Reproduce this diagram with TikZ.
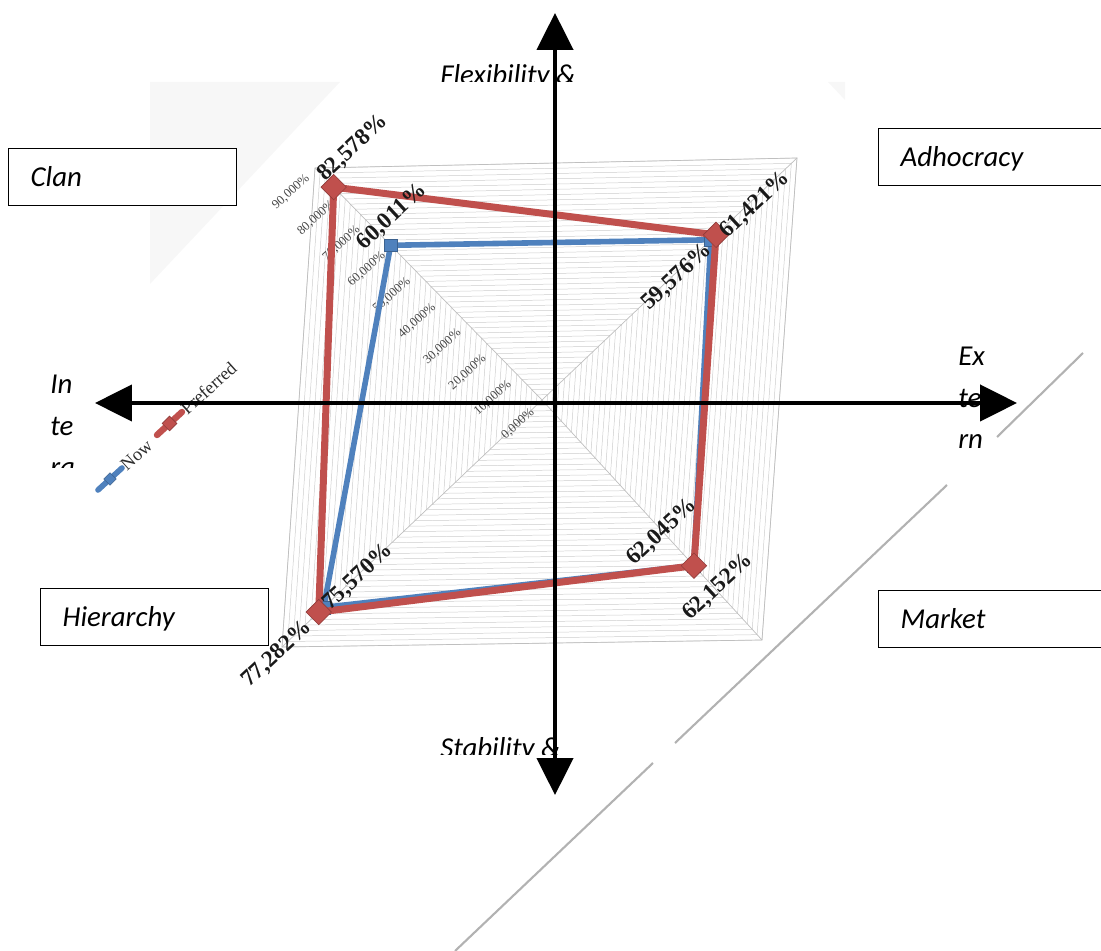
\documentclass[tikz,border=0pt]{standalone}
\usepackage{fontspec}
\setmainfont{Carlito}
\newfontfamily\chartfont{Liberation Serif}
\usepackage{xcolor}
\usepackage{tikz}
\usetikzlibrary{arrows.meta,positioning,calc}

\definecolor{prefred}{HTML}{C0504D}
\definecolor{nowblue}{HTML}{4F81BD}

\begin{document}
\begin{tikzpicture}[
    x=0.025cm, y=-0.025cm,
    bigaxis/.style={line width=2.8pt, {Triangle[length=0.92cm,width=0.9cm]}-{Triangle[length=0.92cm,width=0.9cm]}},
    quadbox/.style={draw, line width=0.9pt, fill=white, anchor=north west, minimum width=5.7cm, minimum height=1.42cm, text width=4.6cm, inner xsep=0.55cm, align=left, font=\fontsize{20.5}{24}\selectfont\itshape, text height=0.46cm, text depth=0pt},
    sidetext/.style={inner sep=0pt, anchor=north west, align=left, font=\fontsize{20.5}{29.4}\selectfont\itshape},
    gridline/.style={gray!40, line width=0.35pt},
    spoke/.style={gray!50, line width=0.5pt},
    ticklabel/.style={font=\chartfont\fontsize{9}{10}\selectfont, text=gray!55!black, rotate=42, inner sep=0pt},
    vallabel/.style={font=\chartfont\bfseries\fontsize{16.5}{17}\selectfont, text=black!90, rotate=43, inner sep=0pt},
    prefline/.style={prefred, line width=0.175cm, line join=round},
    nowline/.style={nowblue, line width=0.14cm, line join=round},
    prefmark/.style={fill=prefred, draw=prefred!75!black, line width=0.4pt, rotate=45, minimum size=0.45cm, inner sep=0pt},
    nowmark/.style={fill=nowblue, draw=nowblue!75!black, line width=0.4pt, minimum size=0.32cm, inner sep=0pt},
    legtext/.style={font=\chartfont\fontsize{13}{14}\selectfont, text=gray!35!black, rotate=42, anchor=west, inner sep=1pt},
    cutline/.style={gray!60, line width=1.5pt}
]
\useasboundingbox (0,0) rectangle (1101,951);

% Chart background
\fill[gray!6] (150,82) -- (340,82) -- (150,284) -- cycle;
\fill[gray!6] (828,82) -- (845,82) -- (845,100) -- cycle;

% Side texts (cut off)
\begin{scope}
  \clip (420,40) rectangle (620,82);
  \node[sidetext] (flex) at (440,64) {Flexibility \&};
\end{scope}
\begin{scope}
  \clip (420,720) rectangle (620,755);
  \node[sidetext] (stab) at (440,737) {Stability \&};
\end{scope}
\begin{scope}
  \clip (40,360) rectangle (110,468);
  \node[sidetext] (intern) at (50,375) {In\\te\\ra};
\end{scope}
\node[sidetext] (extern) at (958,347) {Ex\\te\\rn};

% Diagonal line
\draw[cutline] (1083,353) -- (997,437);
\draw[cutline] (947,485) -- (675,743);
\draw[cutline] (653,763) -- (455,951);

% Quadrant boxes
\node[quadbox] (clan) at (8,148) {Clan};
\node[quadbox] (adhoc) at (878,128) {Adhocracy};
\node[quadbox] (hier) at (40,588) {Hierarchy};
\node[quadbox] (market) at (878,590) {Market};

% Radar grid
\coordinate (C) at (542,400);
\coordinate (TL) at (315,168);
\coordinate (TR) at (797,158);
\coordinate (BR) at (762,640);
\coordinate (BL) at (282,647);
\foreach \k in {1,...,45}
  \draw[gridline] ($(C)!\k/45!(TL)$) -- ($(C)!\k/45!(TR)$) -- ($(C)!\k/45!(BR)$) -- ($(C)!\k/45!(BL)$) -- cycle;
\draw[spoke] (TL) -- (TR) -- (BR) -- (BL) -- cycle;
\foreach \c in {TL,TR,BR,BL}
  \draw[spoke] (C) -- (\c);
\foreach \k/\v in {0/0,1/10,2/20,3/30,4/40,5/50,6/60,7/70,8/80,9/90}
  \node[ticklabel] (tick\k) at ($(C)!\k/9!(TL)+(-24,24)$) {\v,000\%};

% Data
\coordinate (n1) at ($(C)!60.011/90!(TL)$);
\coordinate (n2) at ($(C)!59.576/90!(TR)$);
\coordinate (n3) at ($(C)!62.045/90!(BR)$);
\coordinate (n4) at ($(C)!75.570/90!(BL)$);
\coordinate (p1) at ($(C)!82.578/90!(TL)$);
\coordinate (p2) at ($(C)!61.421/90!(TR)$);
\coordinate (p3) at ($(C)!62.152/90!(BR)$);
\coordinate (p4) at ($(C)!77.282/90!(BL)$);
\draw[nowline] (n1) -- (n2) -- (n3) -- (n4) -- cycle;
\foreach \i in {1,...,4}
  \node[nowmark] (nm\i) at (n\i) {};
\draw[prefline] (p1) -- (p2) -- (p3) -- (p4) -- cycle;
\foreach \i in {1,...,4}
  \node[prefmark] (pm\i) at (p\i) {};

% Value labels
\node[vallabel] (vp1) at (353,148) {82,578\%};
\node[vallabel] (vn1) at (392,217) {60,011\%};
\node[vallabel] (vp2) at (755,205) {61,421\%};
\node[vallabel] (vn2) at (677,277) {59,576\%};
\node[vallabel] (vn3) at (662,532) {62,045\%};
\node[vallabel] (vp3) at (718,587) {62,152\%};
\node[vallabel] (vn4) at (358,577) {75,570\%};
\node[vallabel] (vp4) at (277,654) {77,282\%};

% Legend
\coordinate (lp1) at (157,435);
\coordinate (lp2) at (182,412);
\draw[prefred, line width=0.16cm, line cap=round] (lp1) -- (lp2);
\node[prefmark, minimum size=0.26cm] (lpm) at ($(lp1)!0.5!(lp2)$) {};
\node[legtext] (legpref) at (lp2) {Preferred};
\coordinate (ln1) at (98,490);
\coordinate (ln2) at (122,468);
\draw[nowblue, line width=0.14cm, line cap=round] (ln1) -- (ln2);
\node[nowmark, rotate=45, minimum size=0.22cm] (lnm) at ($(ln1)!0.5!(ln2)$) {};
\node[legtext] (legnow) at (ln2) {Now};

% Axes
\coordinate (vtop) at (555,13);
\coordinate (vbot) at (555,795);
\coordinate (hleft) at (95,403);
\coordinate (hright) at (1017,403);
\draw[bigaxis] (vbot) -- (vtop);
\draw[bigaxis] (hleft) -- (hright);

\end{tikzpicture}
\end{document}
